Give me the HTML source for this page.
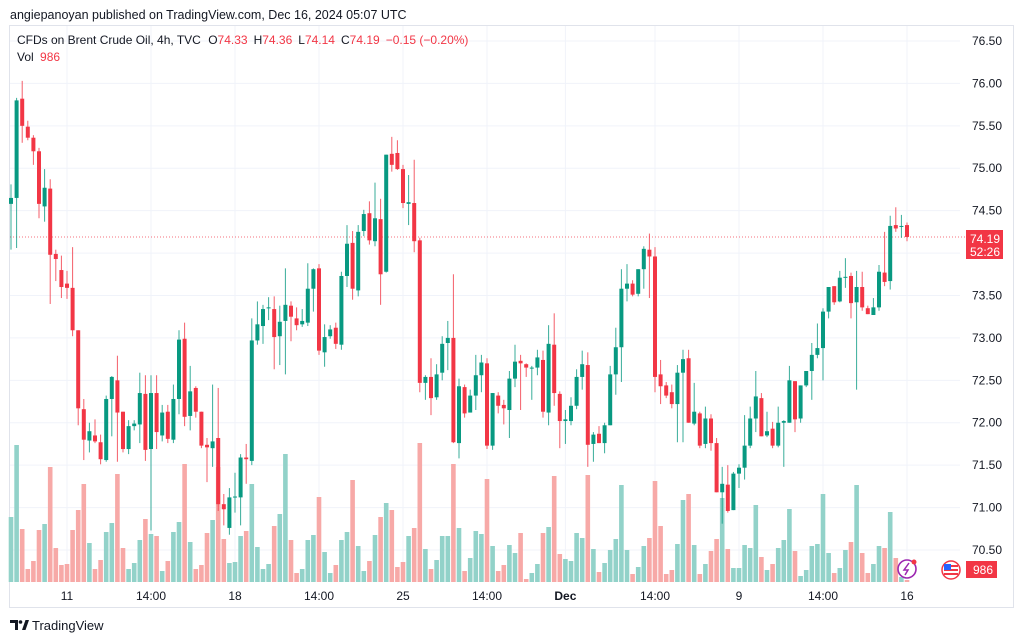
<!DOCTYPE html>
<html><head><meta charset="utf-8"><style>
body{margin:0;background:#fff;width:1024px;height:641px;overflow:hidden;font-family:"Liberation Sans",sans-serif}
svg{display:block}
</style></head><body>
<svg id="c" width="1024" height="641" viewBox="0 0 1024 641" font-family="Liberation Sans, sans-serif">
<text x="10" y="19" font-size="12.5" fill="#131722">angiepanoyan published on TradingView.com, Dec 16, 2024 05:07 UTC</text>
<rect x="9.5" y="25.5" width="1004" height="582" fill="none" stroke="#e0e3eb"/>
<g id="grid"></g>
<g id="vol"></g>
<g id="candles"></g>
<g id="yaxis"></g>
<g id="xaxis"></g>
<text x="17" y="44" font-size="12" fill="#131722">CFDs on Brent Crude Oil, 4h, TVC <tspan dx="4">O</tspan><tspan fill="#f23645">74.33</tspan><tspan dx="6">H</tspan><tspan fill="#f23645">74.36</tspan><tspan dx="6">L</tspan><tspan fill="#f23645">74.14</tspan><tspan dx="6">C</tspan><tspan fill="#f23645">74.19</tspan><tspan dx="6" fill="#f23645">−0.15 (−0.20%)</tspan></text>
<text x="17" y="61" font-size="12" fill="#131722">Vol <tspan dx="3" fill="#f23645">986</tspan></text>
<g><rect x="966" y="230" width="37" height="29" fill="#f23645"/>
<text x="1000" y="243" font-size="12" fill="#fff" text-anchor="end">74.19</text><text x="1000" y="256" font-size="12" fill="#fff" text-anchor="end">52:26</text></g>
<g><rect x="966" y="561" width="31" height="17" fill="#f23645"/><text x="993" y="574" font-size="12" fill="#fff" text-anchor="end">986</text></g>
<g><circle cx="907" cy="569" r="9" fill="#fff" stroke="#9c27b0" stroke-width="1.6"/><path d="M909 563 L904 570 L908 570 L905 575" fill="none" stroke="#9c27b0" stroke-width="1.5"/><circle cx="914" cy="562" r="2.5" fill="#f23645"/></g>
<g><circle cx="951" cy="570" r="9" fill="#fff" stroke="#f23645" stroke-width="1.5"/><rect x="944" y="565" width="14" height="2" fill="#f23645"/><rect x="944" y="569" width="14" height="2" fill="#f23645"/><rect x="944" y="573" width="14" height="2" fill="#f23645"/><rect x="944" y="564" width="7" height="6" fill="#2962ff"/></g>
<g><path d="M10 620 h8 v10 h-3 v-7 h-5z" fill="#131722"/><circle cx="20.5" cy="622" r="1.8" fill="#131722"/><path d="M22 630 l3.5 -10 h3.5 l-3.5 10z" fill="#131722"/>
<text x="32" y="630" font-size="13" fill="#131722">TradingView</text></g>
</svg>
<script>
const opens=[74.58,74.65,75.82,75.49,75.36,75.20,74.55,74.76,73.99,73.80,73.64,73.59,73.09,72.16,71.79,71.85,71.77,71.56,72.28,72.50,72.13,71.69,71.96,71.98,72.34,71.69,72.35,71.85,72.13,71.80,72.28,72.99,72.08,72.41,72.13,71.74,71.70,71.82,71.04,70.76,71.12,71.12,71.59,71.55,72.97,73.14,73.35,73.34,73.02,73.20,73.38,73.23,73.16,73.18,73.58,73.82,72.83,73.02,73.12,72.92,73.73,74.12,73.56,74.26,74.47,74.14,74.40,73.78,75.17,75.18,74.99,74.58,74.59,74.15,72.47,72.54,72.30,72.59,72.94,73.00,71.76,72.42,72.12,72.32,72.56,72.70,71.73,72.32,72.21,72.15,72.52,72.73,72.69,72.64,72.65,72.74,72.12,72.92,72.34,72.02,72.02,72.20,72.54,72.68,71.75,71.87,71.76,71.97,72.57,72.89,73.58,73.64,73.52,73.81,74.04,73.96,72.57,72.44,72.36,72.22,72.59,72.76,71.99,72.11,71.75,72.05,71.76,71.18,71.27,70.97,71.40,71.47,71.73,72.05,72.29,71.85,71.93,71.73,72.00,72.00,72.49,72.05,72.44,72.61,72.80,72.88,73.31,73.61,73.43,73.71,73.73,73.42,73.60,73.35,73.27,73.36,73.77,73.67,74.33,74.31,74.33];
const closes=[74.65,75.80,75.50,75.36,75.20,74.58,74.77,73.98,73.93,73.60,73.59,73.09,72.17,71.80,71.90,71.78,71.57,72.28,72.54,72.12,71.69,71.96,71.99,72.35,71.68,72.35,71.89,72.12,71.81,72.28,72.98,72.07,72.37,72.13,71.73,71.71,71.78,71.04,70.98,71.12,71.13,71.59,71.57,72.97,73.16,73.34,73.36,73.01,73.19,73.39,73.25,73.15,73.20,73.58,73.81,72.85,73.01,73.10,72.93,73.73,74.11,73.58,74.25,74.46,74.15,74.41,73.75,75.16,75.04,74.99,74.59,74.60,74.14,72.47,72.54,72.29,72.57,72.93,73.00,71.77,72.43,72.11,72.32,72.56,72.71,71.73,72.35,72.20,72.17,72.52,72.72,72.70,72.65,72.65,72.77,72.13,72.93,72.35,72.02,72.04,72.20,72.54,72.69,71.74,71.86,71.76,71.97,72.57,72.89,73.58,73.64,73.51,73.81,74.05,73.96,72.54,72.43,72.32,72.22,72.59,72.75,72.00,72.13,71.73,72.05,71.76,71.18,71.28,70.96,71.40,71.47,71.73,72.05,72.31,71.84,71.90,71.73,72.00,72.02,72.50,72.04,72.44,72.61,72.80,72.88,73.31,73.60,73.42,73.71,73.72,73.41,73.60,73.36,73.28,73.36,73.78,73.66,74.32,74.29,74.32,74.19];
const highs=[74.81,75.83,76.03,75.56,75.39,75.24,74.99,74.87,74.04,73.97,73.79,74.07,73.09,72.28,72.00,72.04,71.86,72.32,72.55,72.79,72.13,72.03,72.03,72.59,72.56,72.56,72.56,72.21,72.21,72.45,73.09,73.18,72.67,72.43,72.13,71.82,72.45,72.41,71.16,71.23,71.41,71.63,71.75,73.23,73.43,73.39,73.48,73.49,73.38,73.82,73.43,73.36,73.34,73.88,73.82,73.87,73.16,73.15,73.18,73.78,74.33,74.26,74.33,74.51,74.61,74.83,74.64,75.16,75.37,75.33,75.04,74.92,75.10,74.18,72.56,72.76,72.69,73.02,73.20,73.75,72.52,72.45,72.39,72.80,72.80,72.76,72.35,72.36,72.27,72.61,72.92,72.80,72.70,72.67,72.86,72.85,73.15,73.29,72.37,72.15,72.30,72.63,72.85,72.83,71.89,71.96,72.00,72.67,73.12,73.81,73.87,73.68,73.81,74.08,74.23,74.07,72.74,72.48,72.45,72.68,72.86,72.86,72.47,72.13,72.19,72.10,71.82,71.48,71.50,71.42,71.51,72.09,72.19,72.61,72.35,72.13,72.01,72.19,72.03,72.67,72.49,72.43,72.61,72.94,73.17,73.35,73.60,73.61,73.79,73.94,73.77,73.79,73.78,73.38,73.47,73.86,74.25,74.44,74.54,74.45,74.36];
const lows=[74.04,74.06,75.30,75.33,75.04,74.41,74.37,73.40,73.67,73.47,73.46,73.02,71.97,71.56,71.65,71.76,71.51,71.54,71.84,71.54,71.65,71.63,71.91,71.76,71.55,70.73,71.69,71.78,71.76,71.76,72.10,71.96,71.91,72.06,71.70,71.30,71.48,70.96,70.79,70.68,70.94,70.79,71.28,71.50,72.92,72.93,73.21,72.63,72.68,72.57,72.96,73.09,73.13,73.14,73.31,72.80,72.66,72.99,72.87,72.86,73.60,73.45,73.49,74.20,74.10,74.08,73.39,73.77,74.96,74.98,74.53,74.33,74.01,72.36,72.27,72.09,72.27,72.50,72.62,71.76,71.58,72.06,72.13,72.15,72.36,71.69,71.68,72.11,71.98,71.82,72.42,72.15,72.54,72.27,72.56,72.06,71.97,72.20,71.70,71.75,71.97,72.16,72.39,71.48,71.54,71.76,71.64,71.97,72.33,72.48,73.43,73.49,73.49,73.58,73.47,72.36,72.22,72.29,72.17,71.77,71.77,72.00,71.97,71.70,71.70,71.67,71.18,70.81,70.94,70.97,71.23,71.33,71.70,71.89,71.84,71.83,71.70,71.71,71.48,72.00,71.89,72.00,72.42,72.27,72.76,72.50,73.23,73.39,73.42,73.59,73.23,72.39,73.32,73.28,73.27,73.32,73.61,73.57,74.25,74.18,74.14];
const volumes=[65,137,53,13,21,52,58,115,34,17,18,52,72,98,39,13,22,50,59,108,34,13,19,42,63,48,46,11,21,50,60,118,40,13,17,49,62,115,43,19,20,46,51,98,35,13,18,56,68,128,42,9,13,42,47,85,30,9,17,42,50,102,36,11,21,47,65,79,72,15,20,46,54,139,33,13,22,46,46,118,54,11,24,51,48,103,36,11,17,37,29,49,3,9,18,49,55,106,28,23,21,49,44,107,33,10,19,32,43,97,32,8,15,36,44,101,56,8,12,38,82,88,37,8,18,31,43,84,33,14,14,37,34,77,25,12,18,34,42,73,31,6,12,36,38,88,29,9,14,32,40,97,29,9,18,36,34,70,24,5,2];
const priceTicks=[76.5,76,75.5,75,74.5,74,73.5,73,72.5,72,71.5,71,70.5];
const timeTicks=["11","14:00","18","14:00","25","14:00","Dec","14:00","9","14:00","16"];
const timeTickIdx=[10,25,40,55,70,85,99,115,130,145,160];
const lastPrice=74.19;

const NS="http://www.w3.org/2000/svg";
const X0=11,DX=5.6,PANE_R=960,VOL_BASE=582,VOL_SCALE=1;
const xOf=i=>X0+i*DX;
const yOf=p=>41+(76.5-p)*84.83;
const vOf=v=>v*VOL_SCALE;
function mk(tag,attrs,parent){const e=document.createElementNS(NS,tag);for(const k in attrs)e.setAttribute(k,attrs[k]);parent.appendChild(e);return e;}
const G=document.getElementById('grid'),V=document.getElementById('vol'),C=document.getElementById('candles'),YA=document.getElementById('yaxis'),XA=document.getElementById('xaxis');
priceTicks.forEach(p=>{
  const l=mk('line',{x1:10,x2:PANE_R,y1:yOf(p),y2:yOf(p),stroke:'#f0f3fa'},G);
  
  
  const t=mk('text',{x:1002,y:yOf(p)+4,'font-size':12,fill:'#131722','text-anchor':'end'},YA);
  t.textContent=p.toFixed(2);
  
  
});
timeTickIdx.forEach((idx,k)=>{
  const x=xOf(idx);
  const l=mk('line',{x1:x,x2:x,y1:26,y2:582,stroke:'#f0f3fa'},G);
  
  
  const t=mk('text',{x:x,y:600,'font-size':12,fill:'#131722','text-anchor':'middle','font-weight':timeTicks[k]==='Dec'?'bold':'normal'},XA);
  t.textContent=timeTicks[k];
  
  
});
const pl=mk('line',{x1:10,x2:966,y1:yOf(lastPrice),y2:yOf(lastPrice),stroke:'#f23645','stroke-dasharray':'1 2','stroke-width':1,opacity:0.7},G);


volumes.forEach((v,i)=>{
  const up=closes[i]>=opens[i];
  const h=vOf(v);
  const r=mk('rect',{x:xOf(i)-2.3,y:VOL_BASE-h,width:4.6,height:h,fill:up?'#92d2c9':'#f7a9a7'},V);
  
  
});
opens.forEach((o,i)=>{
  const c=closes[i],up=c>=o,col=up?'#089981':'#f23645',x=xOf(i);
  const hi=Math.max(highs[i],o,c),lo=Math.min(lows[i],o,c);
  const g=mk('g',{},C);
  
  
  mk('line',{x1:x,x2:x,y1:yOf(hi),y2:yOf(lo),stroke:col,'stroke-width':1,opacity:0.8},g);
  const top=yOf(Math.max(o,c)),bot=yOf(Math.min(o,c));
  mk('rect',{x:x-2,y:top,width:4,height:Math.max(1,bot-top),fill:col},g);
});
</script>
</body></html>
